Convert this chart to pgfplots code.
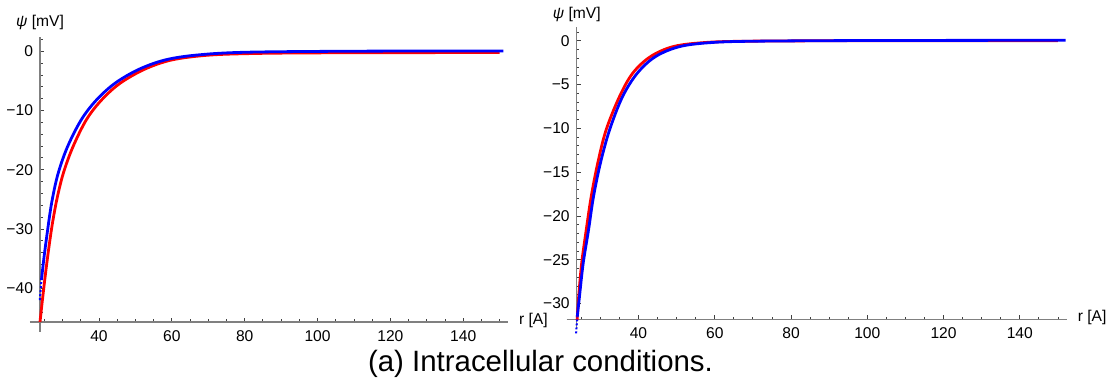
\documentclass[border=0pt]{standalone}
\usepackage{fontspec}
\setmainfont{Liberation Sans}
\usepackage{pgfplots}
\pgfplotsset{compat=1.18}
\usepackage{pgfplotstable}

\pgfplotstableread{
r psi
23.8 -45.7
24.5 -41.8
25.3 -37.6
26.2 -33.3
27.2 -29.1
28.5 -24.8
30.2 -20.6
32.8 -16.2
36.5 -11.6
40.6 -8.3
45.7 -5.45
52.5 -3.05
59.8 -1.5
69 -0.72
80 -0.42
100 -0.28
150 -0.22
}\leftred
\pgfplotstableread{
r psi
24.2 -38.6
24.9 -34.8
25.8 -30.6
27.0 -25.6
28.7 -20.8
31.3 -16.2
35.1 -11.6
39.2 -8.3
44.3 -5.45
50.8 -3.1
58.0 -1.5
66.5 -0.67
80 -0.18
110 0
151 0.05
}\leftblue
\pgfplotstableread{
r psi
23.75 -42.0
24.2 -38.6
}\leftbluestart
\pgfplotstableread{
r psi
23.9 -31.9
24.3 -29.3
25.1 -25.4
26.3 -21.6
27.6 -17.8
29.3 -14.0
31.5 -10.2
35.0 -6.4
38.5 -3.7
43.2 -1.8
49.3 -0.65
58 -0.19
70 -0.05
100 0
150 0
}\rightred
\pgfplotstableread{
r psi
23.95 -31.5
24.5 -29.3
25.5 -25.4
26.9 -21.6
28.2 -17.8
30.0 -14.0
32.4 -10.2
35.8 -6.4
39.7 -3.7
44.5 -1.8
51 -0.65
59.8 -0.19
72 -0.05
100 0.02
152 0.05
}\rightblue
\pgfplotstableread{
r psi
23.65 -33.4
23.95 -31.5
}\rightbluestart

\pgfplotsset{
  mystyle/.style={
    scale only axis,
    axis lines*=left,
    axis line style={black!50, line width=0.6pt, shorten <=-5pt},
    tick align=inside,
    major tick length=2.2pt,
    minor tick length=1.3pt,
    tick style={black!75, line width=0.4pt},
    ticklabel style={font=\fontsize{7.8}{9}\selectfont},
    xticklabel style={yshift=-0.6pt},
    xmin=23.8, xmax=152.3,
    xtick={40,60,80,100,120,140},
    xticklabels={40,60,80,100,120,140},
    minor xtick={25,30,...,150},
    every axis x label/.style={at={(rel axis cs:1,0)},anchor=west,xshift=2pt,yshift=1pt,font=\fontsize{7.8}{9}\selectfont},
    every axis y label/.style={at={(rel axis cs:0,1)},anchor=south,font=\fontsize{7.8}{9}\selectfont},
    xlabel={r [A]},
    ylabel={\textit{ψ} [mV]},
    clip=false,
    redline/.style={color=red, line width=1.4pt, smooth, tension=0.55},
    blueline/.style={color=blue, line width=1.4pt, smooth, tension=0.55},
  }
}

\begin{document}
\begin{tikzpicture}
\useasboundingbox (-20pt,-33.5pt) rectangle (535.5pt,161pt);
\begin{axis}[mystyle,
  width=234pt, height=142.5pt,
  ymin=-45.7, ymax=2.4,
  ytick={-40,-30,-20,-10,0},
  yticklabels={−40,−30,−20,−10,0},
  minor ytick={-44,-42,...,2},
  every axis y label/.append style={yshift=0pt},
]
\addplot[redline] table[x=r,y=psi] {\leftred};
\addplot[blueline] table[x=r,y=psi] {\leftblue};
\addplot[blue, line width=1pt, densely dotted] table[x=r,y=psi] {\leftbluestart};
\end{axis}
\begin{axis}[mystyle,
  at={(268.35pt,1.35pt)},
  width=245pt, height=146.3pt,
  ymin=-31.8, ymax=1.6,
  ytick={-30,-25,-20,-15,-10,-5,0},
  yticklabels={−30,−25,−20,−15,−10,−5,0},
  minor ytick={-31,-30,...,1},
  every axis y label/.append style={yshift=-1pt},
]
\addplot[redline] table[x=r,y=psi] {\rightred};
\addplot[blueline] table[x=r,y=psi] {\rightblue};
\addplot[blue, line width=1pt, densely dotted] table[x=r,y=psi] {\rightbluestart};
\end{axis}
\node[font=\fontsize{14.7}{17}\selectfont, anchor=base] at (250.25pt,-25pt) {(a) Intracellular conditions.};
\end{tikzpicture}
\end{document}
